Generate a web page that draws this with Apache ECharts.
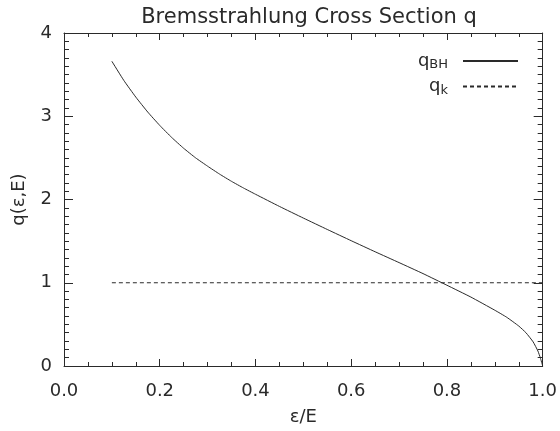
<!DOCTYPE html>
<html>
<head>
<meta charset="utf-8">
<script src="https://cdn.jsdelivr.net/npm/echarts@6/dist/echarts.min.js"></script>
<style>
html, body { margin: 0; padding: 0; background: #fff; }
#chart { width: 560px; height: 431px; }
</style>
</head>
<body>
<div id="chart"></div>
<script>
// values
var xVals = [0.10, 0.125, 0.15, 0.175, 0.20, 0.225, 0.25, 0.275, 0.30, 0.325, 0.35, 0.375,
             0.40, 0.45, 0.50, 0.55, 0.60, 0.65, 0.70, 0.75, 0.80, 0.85, 0.90, 0.925,
             0.95, 0.965, 0.98, 0.99, 0.995, 1.00];
var qBH = [3.66, 3.43, 3.23, 3.05, 2.89, 2.745, 2.615, 2.50, 2.40, 2.305, 2.218, 2.138,
           2.063, 1.917, 1.777, 1.64, 1.505, 1.372, 1.242, 1.11, 0.97, 0.828, 0.67, 0.585,
           0.48, 0.40, 0.29, 0.18, 0.10, 0.00];
var kX = [0.10, 1.00];
var qK = [1, 1];

var font = 'DejaVu Sans';
var ink = '#2a2a2a';

var bhData = xVals.map(function (x, i) { return [x, qBH[i]]; });
var kData = kX.map(function (x, i) { return [x, qK[i]]; });

var chart = echarts.init(document.getElementById('chart'));

function xAxisBase(pos) {
  return {
    type: 'value', position: pos, min: 0, max: 1, interval: 0.2,
    axisLine: { show: true, onZero: false, lineStyle: { color: ink, width: 1 } },
    axisTick: { show: true, inside: true, length: 7, lineStyle: { color: ink } },
    minorTick: { show: true, splitNumber: 4, length: 4, lineStyle: { color: ink } },
    splitLine: { show: false }
  };
}
function yAxisBase(pos) {
  return {
    type: 'value', position: pos, min: 0, max: 4, interval: 1,
    axisLine: { show: true, onZero: false, lineStyle: { color: ink, width: 1 } },
    axisTick: { show: true, inside: true, length: 9, lineStyle: { color: ink } },
    minorTick: { show: true, splitNumber: 10, length: 5, lineStyle: { color: ink } },
    splitLine: { show: false }
  };
}

var xBottom = xAxisBase('bottom');
xBottom.name = 'ε/E';
xBottom.nameLocation = 'middle';
xBottom.nameGap = 42;
xBottom.nameTextStyle = { fontFamily: font, fontSize: 18, color: ink };
xBottom.axisLabel = { margin: 16, fontFamily: font, fontSize: 18, color: ink,
  formatter: function (v) { return v.toFixed(1); } };
var xTop = xAxisBase('top');
xTop.axisLabel = { show: false };

var yLeft = yAxisBase('left');
yLeft.name = 'q(ε,E)';
yLeft.nameLocation = 'middle';
yLeft.nameGap = 36;
yLeft.nameTextStyle = { fontFamily: font, fontSize: 18, color: ink };
yLeft.axisLabel = { margin: 12, fontFamily: font, fontSize: 18, color: ink };
var yRight = yAxisBase('right');
yRight.axisLabel = { show: false };

var rich = {
  q: { fontFamily: font, fontSize: 18, color: ink },
  s: { fontFamily: font, fontSize: 13, color: ink, padding: [8, 10, 0, 0] }
};

chart.setOption({
  animation: false,
  backgroundColor: '#fff',
  title: {
    text: 'Bremsstrahlung Cross Section q',
    left: 304, top: 2, textAlign: 'center',
    textStyle: { fontFamily: font, fontSize: 21, fontWeight: 'normal', color: ink }
  },
  legend: {
    right: 36, top: 47, orient: 'vertical', align: 'right',
    itemWidth: 55, itemHeight: 10, itemGap: 6,
    itemStyle: { opacity: 0 },
    data: ['qBH', 'qk'],
    formatter: function (n) {
      return n === 'qBH' ? '{q|q}{s|BH}' : '{q|q}{s|k}';
    },
    textStyle: { rich: rich }
  },
  grid: { left: 64, right: 16, top: 33, bottom: 64 },
  xAxis: [xBottom, xTop],
  yAxis: [yLeft, yRight],
  series: [
    {
      name: 'qBH', type: 'line', data: bhData, smooth: 0.15, showSymbol: false, symbol: 'none',
      lineStyle: { color: ink, width: 1 }, itemStyle: { color: ink }
    },
    {
      name: 'qk', type: 'line', data: kData, showSymbol: false, symbol: 'none',
      lineStyle: { color: ink, width: 1, type: [4, 3] }, itemStyle: { color: ink }
    }
  ]
});
</script>
</body>
</html>
